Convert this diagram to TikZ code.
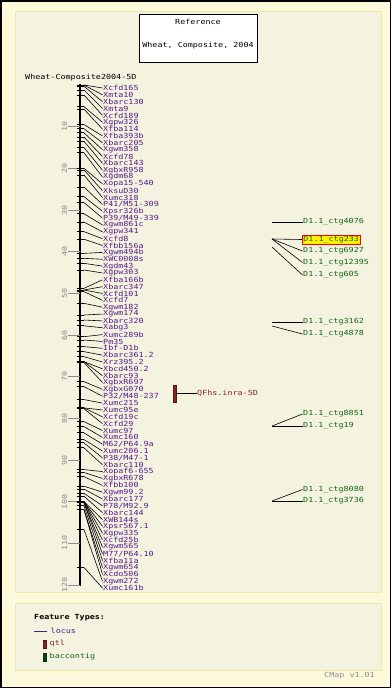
\documentclass[tikz,border=0pt]{standalone}
\usepackage{fontspec}
\setmonofont[FakeStretch=1.2]{DejaVu Sans Mono}
\usetikzlibrary{positioning}
\definecolor{pagecol}{RGB}{252,250,218}
\definecolor{panelcol}{RGB}{244,243,224}
\definecolor{rimcol}{RGB}{238,232,172}
\definecolor{locuscol}{RGB}{85,26,139}
\definecolor{qtlcol}{RGB}{139,35,35}
\definecolor{ctgcol}{RGB}{20,100,20}
\definecolor{scalecol}{RGB}{140,140,140}
\tikzset{
  % monospace text at pixel size
  mono/.style={font=\ttfamily\fontsize{#1}{#1}\selectfont},
  mono/.default={7},
  % locus label on the right of the map
  locuslabel/.style={mono, anchor=west, inner sep=0.5pt, text=locuscol},
  % comparative contig label
  ctglabel/.style={mono, anchor=west, inner sep=0.5pt, text=ctgcol},
  % highlighted contig
  hilite/.style={ctglabel, draw=red, fill=yellow, line width=0.8pt, inner sep=1pt},
  % thin black connector
  conn/.style={black, line width=0.6pt},
  % locus tick across the map bar
  locustick/.style={black, line width=1pt},
  % scale tick and its number
  scaletick/.style={scalecol, line width=0.8pt},
  scalelabel/.style={mono, text=scalecol, rotate=90, inner sep=0pt},
  % feature swatch in the legend
  swatch/.style={draw=#1!60!black, fill=#1, minimum width=3pt, minimum height=8pt, inner sep=0pt},
}
\begin{document}
\begin{tikzpicture}[x=1pt, y=-1pt]
  \useasboundingbox (0,0) rectangle (391,688);
  % page and panels
  \draw[black, line width=1.5pt, fill=pagecol] (0.75,0.75) rectangle (390.25,687.25);
  \draw[rimcol, line width=1pt, fill=panelcol] (15,11) rectangle (381,592);
  \draw[rimcol, line width=1pt, fill=panelcol] (15,603) rectangle (381,670);

  % title box
  \node[draw=black, fill=white, line width=0.8pt, minimum width=118pt, minimum height=48pt, inner sep=0pt] (title) at (198,38) {};
  \node[mono] (titleA) at (198,22) {Reference};
  \node[mono] (titleB) at (198,46) {Wheat, Composite, 2004};
  \node[mono, anchor=west, inner sep=0pt] (mapname) at (25,77.5) {Wheat-Composite2004-5D};

  % map bar and scale
  \coordinate (top) at (80,84);
  \coordinate (bot) at (80,586);
  \draw[black, line width=2.5pt] (top) -- (bot);
  \foreach \v in {10,20,...,120} {
    \coordinate (sc\v) at (68,{85+\v*4.16667});
    \coordinate (sb\v) at (80,{85+\v*4.16667});
    \draw[scaletick] (sc\v) -- (sb\v);
    \node[scalelabel] (sl\v) at (64.5,{85+\v*4.16667}) {\v};
  }

  % loci
  \foreach \cm/\nm [count=\i] in {0/Xcfd165, 0/Xmta10, 0.3/Xbarc130, 1.2/Xmta9, 2.4/Xcfd189,
      5.2/Xgpw326, 5.8/Xfba114, 9.5/Xfba393b, 10.5/Xbarc205, 11.5/Xgwm358, 12.5/Xcfd78,
      13.5/Xbarc143, 15/XgbxR958, 16.3/Xgdm68, 20/Xopa15-540, 20.4/XksuD30, 21.6/Xumc318,
      24.5/{P41/M51-309}, 26.8/Xpsr326b, 28.2/{P39/M49-339}, 30.9/Xgwm861c, 32.9/Xgpw341,
      35.2/Xcfd8, 37/Xfbb156a, 40.4/Xgwm494b, 41.6/XWC0008s, 42.8/Xgdm43, 44.4/Xgpw303,
      48.8/Xfba166b, 49.2/Xbarc347, 49.2/Xcfd101, 49.6/Xcfd7, 52.4/Xgwm182, 55.2/Xgwm174,
      56.4/Xbarc320, 57.8/Xabg3, 60.4/Xumc289b, 61.2/Pm35, 62.8/Ibf-D1b, 64/Xbarc361.2,
      65.2/Xrz395.2, 66.4/Xbcd450.2, 66.4/Xbarc93, 66.6/XgbxR697, 71.2/XgbxG070,
      72.4/{P32/M48-237}, 75.5/Xumc215, 77.5/Xumc95e, 77.5/Xcfd19c, 77.7/Xcfd29, 80.8/Xumc97,
      82/Xumc160, 83.5/{M62/P64.9a}, 85.1/Xumc206.1, 85.9/{P38/M47-1}, 87.1/Xbarc110,
      92.3/Xopaf6-655, 93/XgbxR678, 94/Xfbb100, 96.3/Xgwm99.2, 97/Xbarc177, 98/{P78/M92.9},
      98.7/Xbarc144, 100/XWB144s, 100/Xpsr567.1, 100/Xgpw335, 100/Xcfd25b, 100.3/Xgwm565,
      100.3/{M77/P64.10}, 101/Xfba11a, 101.9/Xgwm654, 101.9/Xcdo506, 106.7/Xgwm272,
      115.8/Xumc161b} {
    \coordinate (s\i) at (76.5,{85+\cm*4.16667});
    \coordinate (t\i) at (84,{85+\cm*4.16667});
    \draw[locustick] (s\i) -- (t\i);
    \node[locuslabel] (l\i) at (102.5,{88+(\i-1)*6.85}) {\nm};
    \draw[conn] (t\i) -- (l\i.west);
  }

  % qtl
  \node[swatch=qtlcol, minimum height=17pt] (qtl) at (174.5,393.5) {};
  \node[mono, anchor=west, inner sep=0.5pt, text=qtlcol] (qtlname) at (196.5,393.5) {QFhs.inra-5D};
  \draw[conn] (qtl.east) -- (qtlname.west);

  % comparative contigs
  \coordinate (c233) at (272,239);
  \node[hilite] (k233) at (302,239.5) {D1.1\_ctg233};
  \draw[conn] (c233) -- (k233.west);
  \foreach \nm/\ly/\sy in {4076/222/222, 6927/251/239, 12395/262.5/239, 605/275/247,
      3162/322/322, 4878/334/326, 8851/414/426, 19/426/426, 8080/489.5/501, 3736/501/501} {
    \coordinate (c\nm) at (272,\sy);
    \node[ctglabel] (k\nm) at (302.5,\ly) {D1.1\_ctg\nm};
    \draw[conn] (c\nm) -- (k\nm.west);
  }

  % legend
  \node[mono, anchor=west, inner sep=0pt, font=\ttfamily\bfseries\fontsize{7}{7}\selectfont] (ftypes) at (34,617.5) {Feature Types:};
  \coordinate (lgA) at (34,631);
  \coordinate (lgB) at (47,631);
  \draw[locuscol, line width=0.8pt] (lgA) -- (lgB);
  \node[locuslabel] (lgLocus) at (50,631) {locus};
  \node[swatch=qtlcol] (lgQ) at (44.5,644) {};
  \node[mono, anchor=west, inner sep=0.5pt, text=qtlcol] (lgQtl) at (49,644) {qtl};
  \node[swatch=ctgcol!70!black] (lgC) at (44.5,657) {};
  \node[ctglabel] (lgCtg) at (49,657) {baccontig};
  \node[mono, anchor=east, inner sep=0pt, text=scalecol] (ver) at (375,675.5) {CMap v1.01};
\end{tikzpicture}
\end{document}
